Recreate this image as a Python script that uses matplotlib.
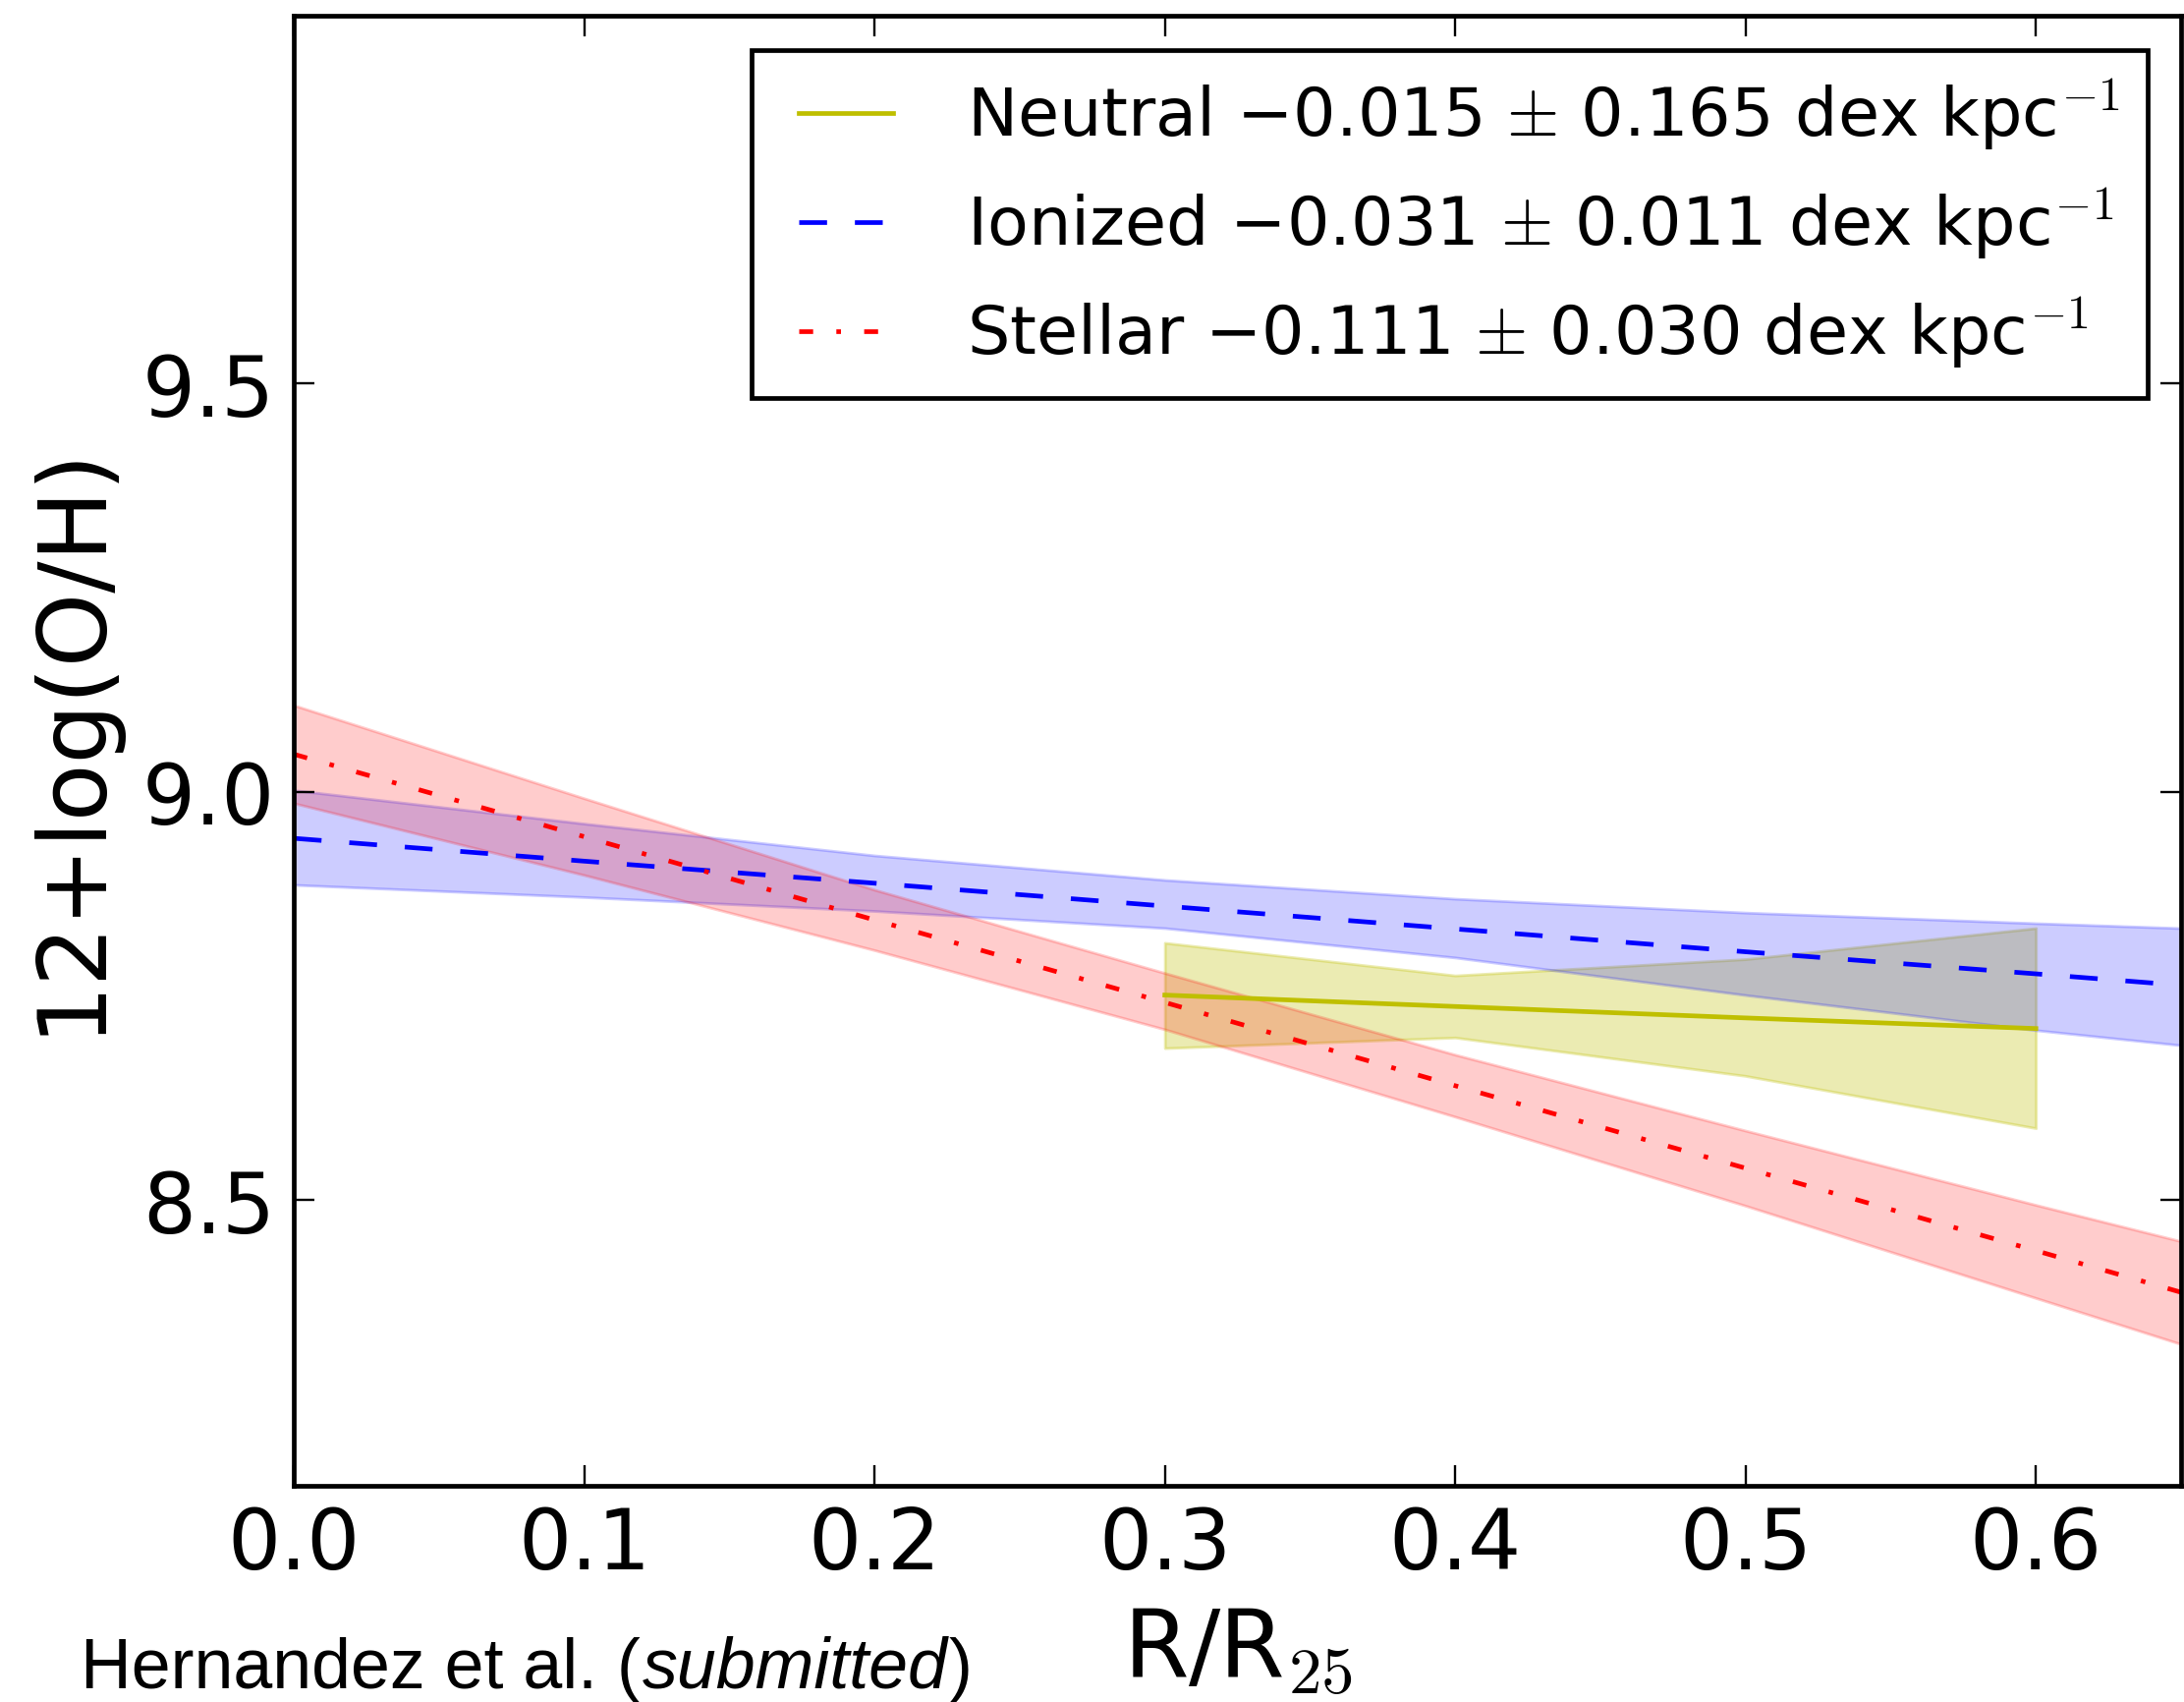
import matplotlib
matplotlib.use('Agg')
import matplotlib.pyplot as plt

# ---------------- data ----------------
r_band = [0.0, 0.1, 0.2, 0.3, 0.4, 0.5, 0.6, 0.7]
ionized_fit = [8.943, 8.915, 8.888, 8.860, 8.832, 8.804, 8.777, 8.749]
ionized_upper = [9.002, 8.961, 8.922, 8.892, 8.869, 8.852, 8.839, 8.827]
ionized_lower = [8.886, 8.871, 8.854, 8.833, 8.797, 8.751, 8.708, 8.671]
stellar_fit = [9.046, 8.945, 8.843, 8.742, 8.640, 8.539, 8.438, 8.336]
stellar_upper = [9.106, 8.992, 8.880, 8.778, 8.678, 8.585, 8.494, 8.405]
stellar_lower = [8.986, 8.898, 8.806, 8.709, 8.602, 8.493, 8.380, 8.267]
r_neutral = [0.3, 0.4, 0.5, 0.6]
neutral_fit = [8.751, 8.737, 8.723, 8.710]
neutral_upper = [8.815, 8.775, 8.795, 8.833]
neutral_lower = [8.686, 8.699, 8.652, 8.588]

labels = ['Neutral \u22120.015 $\\pm$ 0.165 dex kpc$^{-1}$',
          'Ionized \u22120.031 $\\pm$ 0.011 dex kpc$^{-1}$',
          'Stellar \u22120.111 $\\pm$ 0.030 dex kpc$^{-1}$']
xticks = [0.0, 0.1, 0.2, 0.3, 0.4, 0.5, 0.6]
yticks = [8.5, 9.0, 9.5]

# ---------------- style ----------------
DPI = 340
plt.rcParams.update({
    'font.family': ['DejaVu Sans'],
    'mathtext.fontset': 'cm',
    'xtick.direction': 'in', 'ytick.direction': 'in',
    'xtick.top': True, 'ytick.right': True,
    'xtick.major.size': 4.5, 'ytick.major.size': 4.5,
    'xtick.major.width': 0.5, 'ytick.major.width': 0.5,
    'xtick.major.pad': 4, 'ytick.major.pad': 4,
    'axes.linewidth': 1.0,
    'lines.linewidth': 1.0,
    'lines.solid_capstyle': 'projecting',
    'lines.dash_capstyle': 'butt',
    'lines.scale_dashes': False,
    'lines.dashed_pattern': [6, 6],
    'lines.dashdot_pattern': [3, 5, 1, 5],
    'legend.numpoints': 2,
})

fig = plt.figure(figsize=(2223 / DPI, 1733 / DPI), dpi=DPI)
ax = fig.add_axes([299 / 2223, 1 - 1513 / 1733, (2220 - 299) / 2223, (1513 - 17.3) / 1733])

ax.fill_between(r_neutral, neutral_lower, neutral_upper, facecolor=(0.75, 0.75, 0, 0.3),
                edgecolor=(0.75, 0.75, 0, 0.3), linewidth=0.6)
ax.fill_between(r_band, ionized_lower, ionized_upper, facecolor=(0, 0, 1, 0.2),
                edgecolor=(0, 0, 1, 0.2), linewidth=0.6)
ax.fill_between(r_band, stellar_lower, stellar_upper, facecolor=(1, 0, 0, 0.2),
                edgecolor=(1, 0, 0, 0.2), linewidth=0.6)

ax.plot(r_neutral, neutral_fit, color=(0.75, 0.75, 0), linestyle='-', label=labels[0])
ax.plot(r_band, ionized_fit, color='b', linestyle='--', label=labels[1])
ax.plot(r_band, stellar_fit, color='r', linestyle='-.', label=labels[2])

ax.set_xlim(0, 0.65)
ax.set_ylim(8.15, 9.95)
ax.set_xticks(xticks)
ax.set_yticks(yticks)
ax.xaxis.set_major_formatter(matplotlib.ticker.FormatStrFormatter('%.1f'))
ax.yaxis.set_major_formatter(matplotlib.ticker.FormatStrFormatter('%.1f'))
ax.tick_params(labelsize=18)

ax.set_xlabel('R/R$_{25}$', fontsize=20.3)
ax.set_ylabel('12+log(O/H)', fontsize=20.3, labelpad=5.5)
ax.yaxis.label.set_y(0.509)

leg = ax.legend(loc='upper right', fontsize=14.5, handlelength=2.0, handletextpad=0.8,
                borderpad=0.4, labelspacing=0.5, borderaxespad=0.5, fancybox=False,
                framealpha=1.0, edgecolor='black')
leg.get_frame().set_linewidth(1.0)

# credit text with italic part
renderer = fig.canvas.get_renderer()
W = 2223.0
fs = 15.2
t1 = fig.text(82 / W, 1 - 1718 / 1733, 'Hernandez et al. (', fontsize=fs,
              family='Liberation Sans', ha='left', va='baseline')
b1 = t1.get_window_extent(renderer)
t2 = fig.text((b1.x1 + 2) / W, 1 - 1718 / 1733, 'submitted', fontsize=fs,
              family='Liberation Sans', style='italic', ha='left', va='baseline')
b2 = t2.get_window_extent(renderer)
t3 = fig.text((b2.x1 + 1) / W, 1 - 1718 / 1733, ')', fontsize=fs,
              family='Liberation Sans', ha='left', va='baseline')

fig.savefig('out.png', dpi=DPI)
